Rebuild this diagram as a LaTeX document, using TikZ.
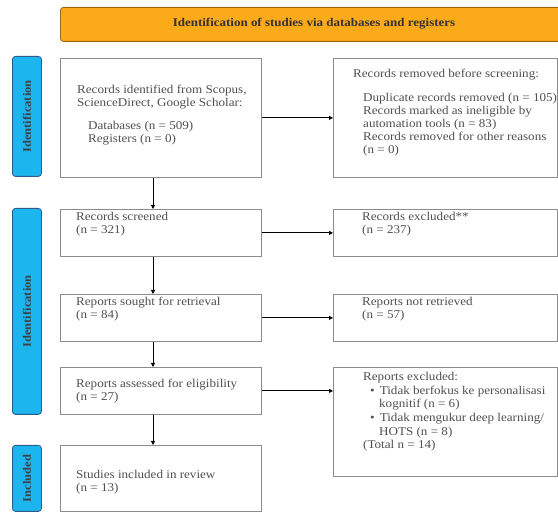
\documentclass[tikz,border=0pt]{standalone}
\usepackage{fontspec}
\setmainfont{Liberation Serif}[FakeStretch=1.1]
\usetikzlibrary{arrows.meta}
\usetikzlibrary{positioning}
\usetikzlibrary{shadows}
\definecolor{headfill}{HTML}{FBAA19}
\definecolor{headline}{HTML}{A0660C}
\definecolor{sidefill}{HTML}{1DB5EE}
\definecolor{sideline}{HTML}{2B5C8C}
\definecolor{boxline}{HTML}{8C8C8C}
\definecolor{boxtext}{HTML}{505050}
\tikzset{
	stagebox/.style={shape=rectangle,draw=boxline,fill=white,line width=0.8pt,anchor=north west,drop shadow={opacity=0.2,shadow xshift=1pt,shadow yshift=-1pt}},
	stagetext/.style={anchor=north west,inner sep=0pt,align=left,text=boxtext,font=\fontsize{11.9}{13}\selectfont},
	sidelabel/.style={shape=rectangle,rounded corners=3pt,draw=sideline,fill=sidefill,line width=0.8pt,anchor=north west,minimum width=29pt},
	flow/.style={-{Triangle[length=4pt,width=4pt]},line width=0.8pt}
}
\newcommand{\drawstagebox}[4]{
	\draw #1 node (#2) [stagebox,minimum width=#3,minimum height=#4] {};
}

\begin{document}
\begin{tikzpicture}[x=1pt,y=-1pt]
	\useasboundingbox (0,0) rectangle (558,513);
	\draw (60,7) node (head) [shape=rectangle,rounded corners=3pt,draw=headline,fill=headfill,line width=0.8pt,anchor=north west,minimum width=515pt,minimum height=34pt] {};
	\draw (314,24) node (headtxt) [font=\fontsize{11.8}{11.8}\selectfont\bfseries,text=black!80] {Identification of studies via databases and registers};
	\foreach \top/\high/\name/\txt in {56/120/idside/Identification,208/206/scrside/Identification,445/66/incside/Included} {
		\draw (12,\top) node (\name) [sidelabel,minimum height=\high pt] {};
		\draw (\name.center) node [rotate=90,font=\fontsize{11.4}{11.4}\selectfont\bfseries,text=black!75] {\txt};
	}
	\drawstagebox{(60,58)}{rec}{201pt}{119pt}
	\drawstagebox{(333,58)}{recout}{224pt}{119pt}
	\drawstagebox{(60,209)}{scr}{201pt}{47pt}
	\drawstagebox{(333,209)}{scrout}{224pt}{47pt}
	\drawstagebox{(60,294)}{sought}{201pt}{47pt}
	\drawstagebox{(333,294)}{soughtout}{224pt}{47pt}
	\drawstagebox{(60,367)}{elig}{201pt}{47pt}
	\drawstagebox{(333,367)}{eligout}{224pt}{109pt}
	\drawstagebox{(60,445)}{incl}{201pt}{66pt}
	\node (rectxt) [stagetext,below right=27pt and 17pt of rec.north west] {Records identified from Scopus,\\ScienceDirect, Google Scholar:\\[10pt]\hspace*{11pt}Databases (n = 509)\\\hspace*{11pt}Registers (n = 0)};
	\node (recouttxt) [stagetext,below right=11pt and 20pt of recout.north west] {Records removed before screening:\\[11pt]\hspace*{10pt}Duplicate records removed (n = 105)\\\hspace*{10pt}Records marked as ineligible by\\\hspace*{10pt}automation tools (n = 83)\\\hspace*{10pt}Records removed for other reasons\\\hspace*{10pt}(n = 0)};
	\node (scrtxt) [stagetext,below right=3pt and 16pt of scr.north west] {Records screened\\(n = 321)};
	\node (scrouttxt) [stagetext,below right=3pt and 29pt of scrout.north west] {Records excluded**\\(n = 237)};
	\node (soughttxt) [stagetext,below right=3pt and 16pt of sought.north west] {Reports sought for retrieval\\(n = 84)};
	\node (soughtouttxt) [stagetext,below right=3pt and 29pt of soughtout.north west] {Reports not retrieved\\(n = 57)};
	\node (eligtxt) [stagetext,below right=12pt and 16pt of elig.north west] {Reports assessed for eligibility\\(n = 27)};
	\node (eligouttxt) [stagetext,below right=5pt and 30pt of eligout.north west,font=\fontsize{11.9}{13.7}\selectfont] {Reports excluded:\\\hspace*{7pt}\textbullet\hspace{5pt}Tidak berfokus ke personalisasi\\\hspace*{16pt}kognitif (n = 6)\\\hspace*{7pt}\textbullet\hspace{5pt}Tidak mengukur deep learning/\\\hspace*{16pt}HOTS (n = 8)\\(Total n = 14)};
	\node (incltxt) [stagetext,below right=25pt and 16pt of incl.north west] {Studies included in review\\(n = 13)};
	\coordinate (spine) at (153,0);
	\draw[flow] (rec.south -| spine) -- (scr.north -| spine);
	\draw[flow] (scr.south -| spine) -- (sought.north -| spine);
	\draw[flow] (sought.south -| spine) -- (elig.north -| spine);
	\draw[flow] (elig.south -| spine) -- (incl.north -| spine);
	\draw[flow] (rec.east) -- (recout.west);
	\draw[flow] (scr.east) -- (scrout.west);
	\draw[flow] (sought.east) -- (soughtout.west);
	\draw[flow] (elig.east) -- (elig.east -| eligout.west);
\end{tikzpicture}
\end{document}
